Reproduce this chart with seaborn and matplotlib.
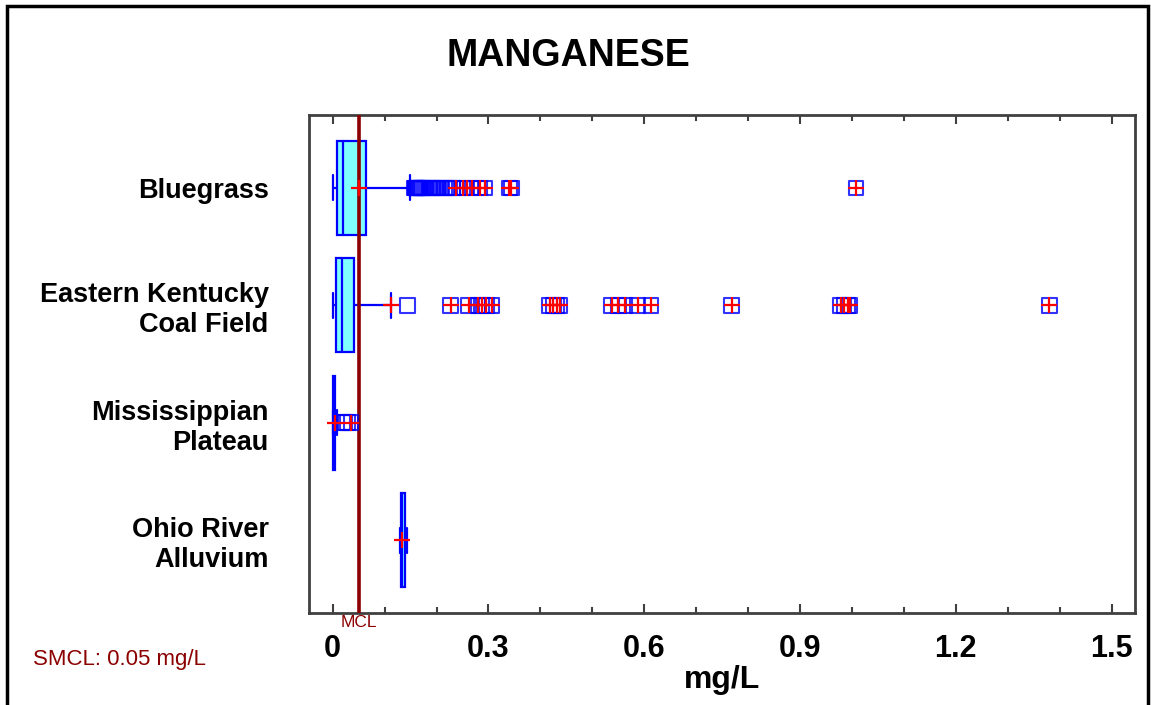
import matplotlib
matplotlib.use("Agg")
import matplotlib.pyplot as plt
import seaborn as sns
import pandas as pd
import numpy as np
from matplotlib.patches import Rectangle
from matplotlib.ticker import MultipleLocator, FuncFormatter
import matplotlib.transforms as mtransforms

# ---------------- data ----------------
regions = ["Bluegrass", "Eastern Kentucky\nCoal Field",
           "Mississippian\nPlateau", "Ohio River\nAlluvium"]

whisker_lo = [0.001, 0.001, 0.000, 0.129]
q1 = [0.0077, 0.0058, 0.0015, 0.131]
median = [0.019, 0.0173, 0.0020, 0.134]
q3 = [0.064, 0.041, 0.0040, 0.140]
whisker_hi = [0.149, 0.112, 0.0080, 0.144]
means = [0.051, 0.113, 0.005, 0.1335]

# outliers (open squares)
mild_bluegrass = [0.158, 0.159, 0.160, 0.161, 0.162, 0.163, 0.164, 0.166,
                  0.168, 0.170, 0.173, 0.176, 0.180, 0.184, 0.188, 0.192,
                  0.196, 0.200, 0.205, 0.210, 0.215, 0.220, 0.226, 0.231]
mild_eastern = [0.144]
mild_mississippian = [0.020, 0.024, 0.028]
mild_ohio = []

# extreme outliers (open squares with a red cross)
extreme_bluegrass = [0.237, 0.250, 0.259, 0.268, 0.284, 0.293,
                     0.340, 0.344, 1.008]
extreme_eastern = [0.227, 0.262, 0.280, 0.287, 0.296, 0.307,
                   0.418, 0.425, 0.432, 0.438,
                   0.537, 0.550, 0.563, 0.587, 0.613,
                   0.768, 0.978, 0.985, 0.992, 0.996, 1.380]
extreme_mississippian = [0.035]
extreme_ohio = []

smcl = 0.05
x_ticks_major = 0.3
x_ticks_minor = 0.1

# ---------------- tables for seaborn ----------------
box_rows = []
for i, r in enumerate(regions):
    for v in (whisker_lo[i], q1[i], median[i], q3[i], whisker_hi[i]):
        box_rows.append({"region": r, "value": v})
box_df = pd.DataFrame(box_rows)

mild_all = [mild_bluegrass, mild_eastern, mild_mississippian, mild_ohio]
extreme_all = [extreme_bluegrass, extreme_eastern, extreme_mississippian, extreme_ohio]
sq_rows, ex_rows = [], []
for r, m, e in zip(regions, mild_all, extreme_all):
    for v in m + e:
        sq_rows.append({"region": r, "value": v})
    for v in e:
        ex_rows.append({"region": r, "value": v})
sq_df = pd.DataFrame(sq_rows)
ex_df = pd.DataFrame(ex_rows)
mean_df = pd.DataFrame({"region": regions, "value": means})

# ---------------- style ----------------
sns.set_style("white")
plt.rcParams["font.family"] = ["Liberation Sans", "DejaVu Sans"]
plt.rcParams["text.color"] = "black"
plt.rcParams["axes.labelcolor"] = "black"
plt.rcParams["xtick.labelcolor"] = "black"
plt.rcParams["ytick.labelcolor"] = "black"

W, H = 1151, 705
fig = plt.figure(figsize=(W / 100, H / 100), dpi=100)
ax = fig.add_axes([309 / W, 1 - 613 / H, (1135 - 309) / W, (613 - 115) / H])

BLUE = "#0000FF"
MAROON = "#8B0000"

sns.boxplot(data=box_df, x="value", y="region", order=regions, orient="h",
            whis=np.inf, width=0.8, color="#80FFFF", linecolor=BLUE,
            linewidth=1.6, saturation=1, showfliers=False, capwidths=0.21,
            ax=ax)

ax.axvline(smcl, color=MAROON, lw=2.6, zorder=3)

n0 = len(ax.collections)
sns.stripplot(data=sq_df, x="value", y="region", order=regions, orient="h",
              jitter=False, marker="s", size=10.5, color=BLUE, edgecolor=BLUE,
              linewidth=1.5, ax=ax, zorder=4)
for c in ax.collections[n0:]:
    c.set_facecolor("none")
    c.set_edgecolor(BLUE)
    c.set_linewidth(1.5)
    c.set_alpha(0.8)

n1 = len(ax.collections)
sns.stripplot(data=ex_df, x="value", y="region", order=regions, orient="h",
              jitter=False, marker="+", size=11, color="red",
              linewidth=1.5, ax=ax, zorder=5)
sns.stripplot(data=mean_df, x="value", y="region", order=regions, orient="h",
              jitter=False, marker="+", size=12, color="red",
              linewidth=1.6, ax=ax, zorder=6)
for c in ax.collections[n1:]:
    c.set_facecolor("red")
    c.set_edgecolor("red")
    c.set_linewidth(1.6)

# ---------------- axes ----------------
ax.set_xlim(-0.0456, 1.545)
ax.set_ylim(3.62, -0.62)
ax.xaxis.set_major_locator(MultipleLocator(x_ticks_major))
ax.xaxis.set_minor_locator(MultipleLocator(x_ticks_minor))
ax.xaxis.set_major_formatter(FuncFormatter(lambda v, p: f"{v:g}"))
ax.tick_params(axis="x", which="both", direction="in", top=True, bottom=True,
               color="#404040", width=1.5)
ax.tick_params(axis="x", which="major", length=6.5, pad=15, labelsize=22)
ax.tick_params(axis="x", which="minor", length=4.5)
ax.tick_params(axis="y", length=0, pad=29, labelsize=19.5)
for t in ax.get_xticklabels():
    t.set_fontweight("bold")
for t in ax.get_yticklabels():
    t.set_fontweight("bold")
    t.set_linespacing(1.2)

for s in ax.spines.values():
    s.set_color("#404040")
    s.set_linewidth(2)
    s.set_visible(True)

ax.set_ylabel("")
ax.set_xlabel("mg/L", fontsize=23, fontweight="bold", labelpad=1)

trans = mtransforms.blended_transform_factory(ax.transData, ax.transAxes)
ax.text(smcl, -0.02, "MCL", transform=trans, ha="center", va="center",
        fontsize=12.5, color=MAROON)

fig.text(568 / W, 1 - 56 / H, "MANGANESE", ha="center", va="center",
         fontsize=27, fontweight="bold")
fig.text(33 / W, 1 - 660 / H, "SMCL: 0.05 mg/L", ha="left", va="center",
         fontsize=16, color=MAROON)

fig.add_artist(Rectangle((7 / W, -0.05), (1148 - 7) / W, 1.05 - 6 / H,
                         transform=fig.transFigure, fill=False,
                         edgecolor="black", linewidth=2.5))

fig.savefig("out.png", dpi=100, facecolor="white")
